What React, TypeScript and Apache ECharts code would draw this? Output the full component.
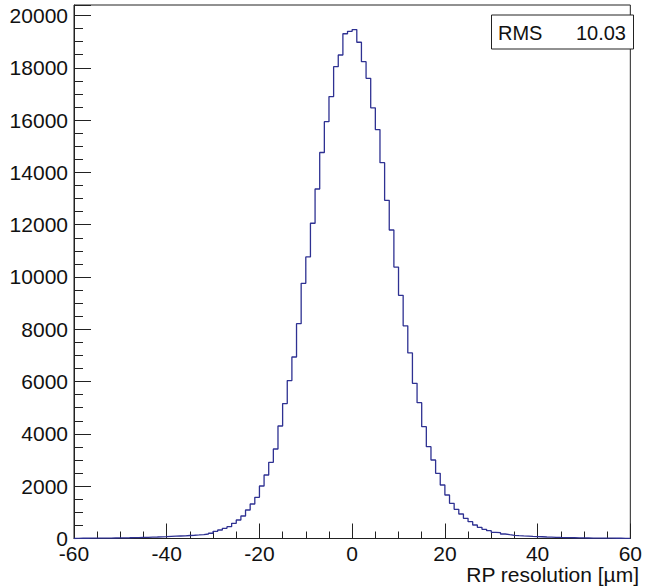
import React, { useEffect, useRef } from "react";
import * as echarts from "echarts";

// Histogram: 120 bins of width 1 µm from -60 to 60
const xMin = -60;
const xMax = 60;
const binWidth = 1;
const counts: number[] = [
  // -60 .. -17
  8, 9, 10, 11, 12, 14, 15, 17, 20, 22, 25, 28, 32, 36, 41, 46, 52, 58, 65, 72,
  80, 88, 96, 104, 114, 124, 136, 150, 172, 200, 275, 325, 390, 451, 581, 707,
  860, 1090, 1319, 1576, 2008, 2428, 2914, 3423,
  // -16 .. 34
  4302, 5160, 6040, 6940, 8215, 9759, 10765, 12054, 13365, 14760, 15939, 16900,
  18042, 18489, 19300, 19395, 19460, 18975, 18233, 17598, 16470, 15635, 14370,
  12930, 11797, 10380, 9300, 8132, 7095, 5935, 5195, 4275, 3511, 3002, 2493,
  2046, 1663, 1346, 1117, 937, 772, 643, 516, 428, 352, 298, 237, 222, 172, 145,
  122,
  // 35 .. 59
  108, 98, 90, 80, 72, 66, 58, 52, 46, 40, 36, 32, 28, 24, 22, 20, 17, 15, 14,
  12, 11, 10, 9, 8, 6,
];
const yMax = 20400;
const yInterval = 2000;
const xInterval = 20;
const statLabel = "RMS";
const statValue = "10.03";
const xTitle = "RP resolution [\u00b5m]";

const FONT = "Liberation Sans, Arial, Helvetica, sans-serif";
const LINE = "#2e3192";
const AX = "#222";

export default function App() {
  const ref = useRef<HTMLDivElement>(null);
  useEffect(() => {
    if (!ref.current) return;
    const chart = echarts.init(ref.current, undefined, { renderer: "svg" });
    const data: [number, number][] = [[xMin, 0]];
    counts.forEach((c, i) => data.push([xMin + i * binWidth, c]));
    data.push([xMax, counts[counts.length - 1]]);
    data.push([xMax, 0]);

    chart.setOption({
      animation: false,
      backgroundColor: "#fff",
      grid: {
        left: 74,
        right: 7,
        top: 5,
        bottom: 47.5,
        show: true,
        borderColor: AX,
        borderWidth: 1,
        backgroundColor: "transparent",
      },
      xAxis: {
        type: "value",
        min: xMin,
        max: xMax,
        interval: xInterval,
        axisLine: { show: true, onZero: false, lineStyle: { color: AX, width: 1 } },
        axisTick: { show: true, inside: true, length: 15, lineStyle: { color: AX } },
        minorTick: { show: true, splitNumber: 4, length: 7, lineStyle: { color: AX } },
        splitLine: { show: false },
        minorSplitLine: { show: false },
        axisLabel: {
          fontFamily: FONT,
          fontSize: 21,
          lineHeight: 16,
          color: "#111",
          margin: 7,
          formatter: (v: number) => String(v),
        },
      },
      yAxis: {
        type: "value",
        min: 0,
        max: yMax,
        interval: yInterval,
        axisLine: { show: true, onZero: false, lineStyle: { color: AX, width: 1 } },
        axisTick: { show: true, inside: true, length: 17, lineStyle: { color: AX } },
        minorTick: { show: true, splitNumber: 4, length: 9, lineStyle: { color: AX } },
        splitLine: { show: false },
        minorSplitLine: { show: false },
        axisLabel: {
          fontFamily: FONT,
          fontSize: 21,
          lineHeight: 10,
          color: "#111",
          margin: 6,
          showMaxLabel: false,
          formatter: (v: number) => String(v),
        },
      },
      series: [
        {
          type: "line",
          step: "end",
          data,
          symbol: "none",
          lineStyle: { color: LINE, width: 1.3 },
          z: 3,
        },
      ],
      graphic: [
        {
          type: "rect",
          shape: { x: 491.5, y: 15, width: 142, height: 34 },
          style: { fill: "#fff", stroke: AX, lineWidth: 1 },
          z: 10,
        },
        {
          type: "text",
          x: 498,
          y: 32.5,
          style: {
            text: statLabel,
            font: `20px ${FONT}`,
            fill: "#111",
            textAlign: "left",
            textVerticalAlign: "middle",
          },
          z: 11,
        },
        {
          type: "text",
          x: 626,
          y: 32.5,
          style: {
            text: statValue,
            font: `20px ${FONT}`,
            fill: "#111",
            textAlign: "right",
            textVerticalAlign: "middle",
          },
          z: 11,
        },
        {
          type: "text",
          x: 639,
          y: 574,
          style: {
            text: xTitle,
            font: `21px ${FONT}`,
            fill: "#111",
            textAlign: "right",
            textVerticalAlign: "middle",
          },
          z: 11,
        },
      ],
    });
    return () => chart.dispose();
  }, []);
  return (
    <div
      ref={ref}
      style={{ position: "fixed", left: 0, top: 0, width: 645, height: 586 }}
    />
  );
}
